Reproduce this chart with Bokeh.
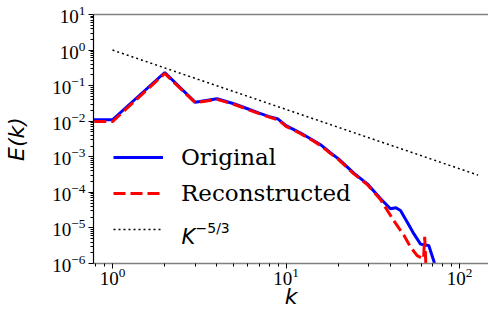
from bokeh.plotting import figure
from bokeh.models import LogAxis, FixedTicker, Legend, LegendItem, Label, Range1d
from bokeh.embed import file_html
from bokeh.resources import INLINE

# ---- data ----
k_orig = [0.5, 1, 2, 3, 4, 5, 6, 7, 8, 9, 10, 12, 14, 16, 18, 20, 24.6, 29.4,
          35.1, 40, 43, 45.7, 50, 54.6, 59.6, 63, 66.5, 71, 73]
E_orig = [0.011, 0.011, 0.234, 0.034, 0.0427, 0.031, 0.0224, 0.0168, 0.0135,
          0.0115, 0.0075, 0.0048, 0.0031, 0.0021, 0.0013, 0.00089, 0.000347,
          0.000174, 6.6e-5, 3.47e-5, 3.7e-5, 3.1e-5, 1.45e-5, 6.8e-6, 3.5e-6,
          3.3e-6, 3.2e-6, 1.2e-6, 7e-7]

k_rec = [0.5, 1, 2, 3, 4, 5, 6, 7, 8, 9, 10, 12, 14, 16, 18, 20, 24.6, 29.4,
         35.1, 41.8, 47.8, 52.2, 57, 62, 63, 64]
E_rec = [0.0098, 0.0098, 0.22, 0.033, 0.041, 0.030, 0.0216, 0.0163, 0.013,
         0.011, 0.0072, 0.0046, 0.0030, 0.0020, 0.00125, 0.00085, 0.00033,
         0.000165, 6.2e-5, 1.6e-5, 6.2e-6, 2.9e-6, 1.66e-6, 1.35e-6, 5.6e-6, 9e-7]

k_ref = [1, 128]
E_ref = [1.0, 3.05e-4]

x_major = [1, 10, 100]
y_major = [1e-6, 1e-5, 1e-4, 1e-3, 1e-2, 1e-1, 1e0, 1e1]

labels = ["Original", "Reconstructed", ""]

# ---- figure ----
p = figure(width=488, height=316, x_axis_type="log", y_axis_type="log",
           x_range=Range1d(0.777, 146.9), y_range=Range1d(1e-6, 10),
           output_backend="svg", toolbar_location=None,
           min_border_left=93, min_border_right=0, min_border_top=14,
           min_border_bottom=53)
p.outline_line_color = None
p.grid.visible = False
p.background_fill_color = "white"
p.border_fill_color = "white"

x_minor = [m * 10.0 ** e for e in (-1, 0, 1, 2) for m in range(2, 10)]
y_minor = [m * 10.0 ** e for e in range(-6, 1) for m in range(2, 10)]

xa = p.xaxis[0]
xa.ticker = FixedTicker(ticks=x_major, minor_ticks=x_minor)
ya = p.yaxis[0]
ya.ticker = FixedTicker(ticks=y_major, minor_ticks=y_minor)

for ax in (xa, ya):
    ax.major_tick_in = 0
    ax.major_tick_out = 5
    ax.minor_tick_in = 0
    ax.minor_tick_out = 3
    ax.major_tick_line_color = "black"
    ax.minor_tick_line_color = "black"
    ax.major_label_text_font = "Liberation Serif"
    ax.major_label_text_font_size = "19px"
    ax.major_label_text_color = "black"
    ax.axis_label_text_font = "DejaVu Sans"
    ax.axis_label_text_font_style = "italic"
    ax.axis_label_text_font_size = "22px"
    ax.axis_label_text_color = "black"

xa.axis_line_color = "#808080"
xa.axis_line_width = 1.5
ya.axis_line_color = "black"
ya.axis_line_width = 1.2
xa.axis_label = "k"
ya.axis_label = "E(k)"
xa.major_label_standoff = -1
xa.axis_label_standoff = -4
ya.major_label_standoff = 3
ya.axis_label_standoff = 20

top = LogAxis(ticker=FixedTicker(ticks=[]), axis_line_color="#808080",
              axis_line_width=1.5, major_tick_in=0, major_tick_out=0,
              minor_tick_in=0, minor_tick_out=0,
              major_label_text_font_size="0px")
p.add_layout(top, "above")

r_orig = p.line(k_orig, E_orig, line_color="#0000ff", line_width=3)
r_rec = p.line(k_rec, E_rec, line_color="#ff0000", line_width=3, line_dash="12 5")
r_ref = p.line(k_ref, E_ref, line_color="black", line_width=1.5, line_dash="2 3")

legend = Legend(items=[LegendItem(label=labels[0], renderers=[r_orig]),
                       LegendItem(label=labels[1], renderers=[r_rec]),
                       LegendItem(label=" ", renderers=[r_ref])],
                location=(20, 21), padding=0, margin=0, spacing=10,
                glyph_width=50, glyph_height=26, label_height=26,
                label_standoff=18, border_line_color=None,
                background_fill_alpha=0,
                label_text_font="DejaVu Serif", label_text_font_size="23px",
                label_text_color="black")
p.add_layout(legend, "center")

p.add_layout(Label(x=88, y=27, x_units="screen", y_units="screen", text="K",
                   text_font="DejaVu Sans", text_font_style="italic",
                   text_font_size="21px", text_baseline="alphabetic",
                   text_color="black"))
p.add_layout(Label(x=102, y=36, x_units="screen", y_units="screen", text="\u22125/3",
                   text_font="DejaVu Sans", text_font_size="14px",
                   text_baseline="alphabetic", text_color="black"))

open("out.html", "w").write(file_html(p, INLINE))
